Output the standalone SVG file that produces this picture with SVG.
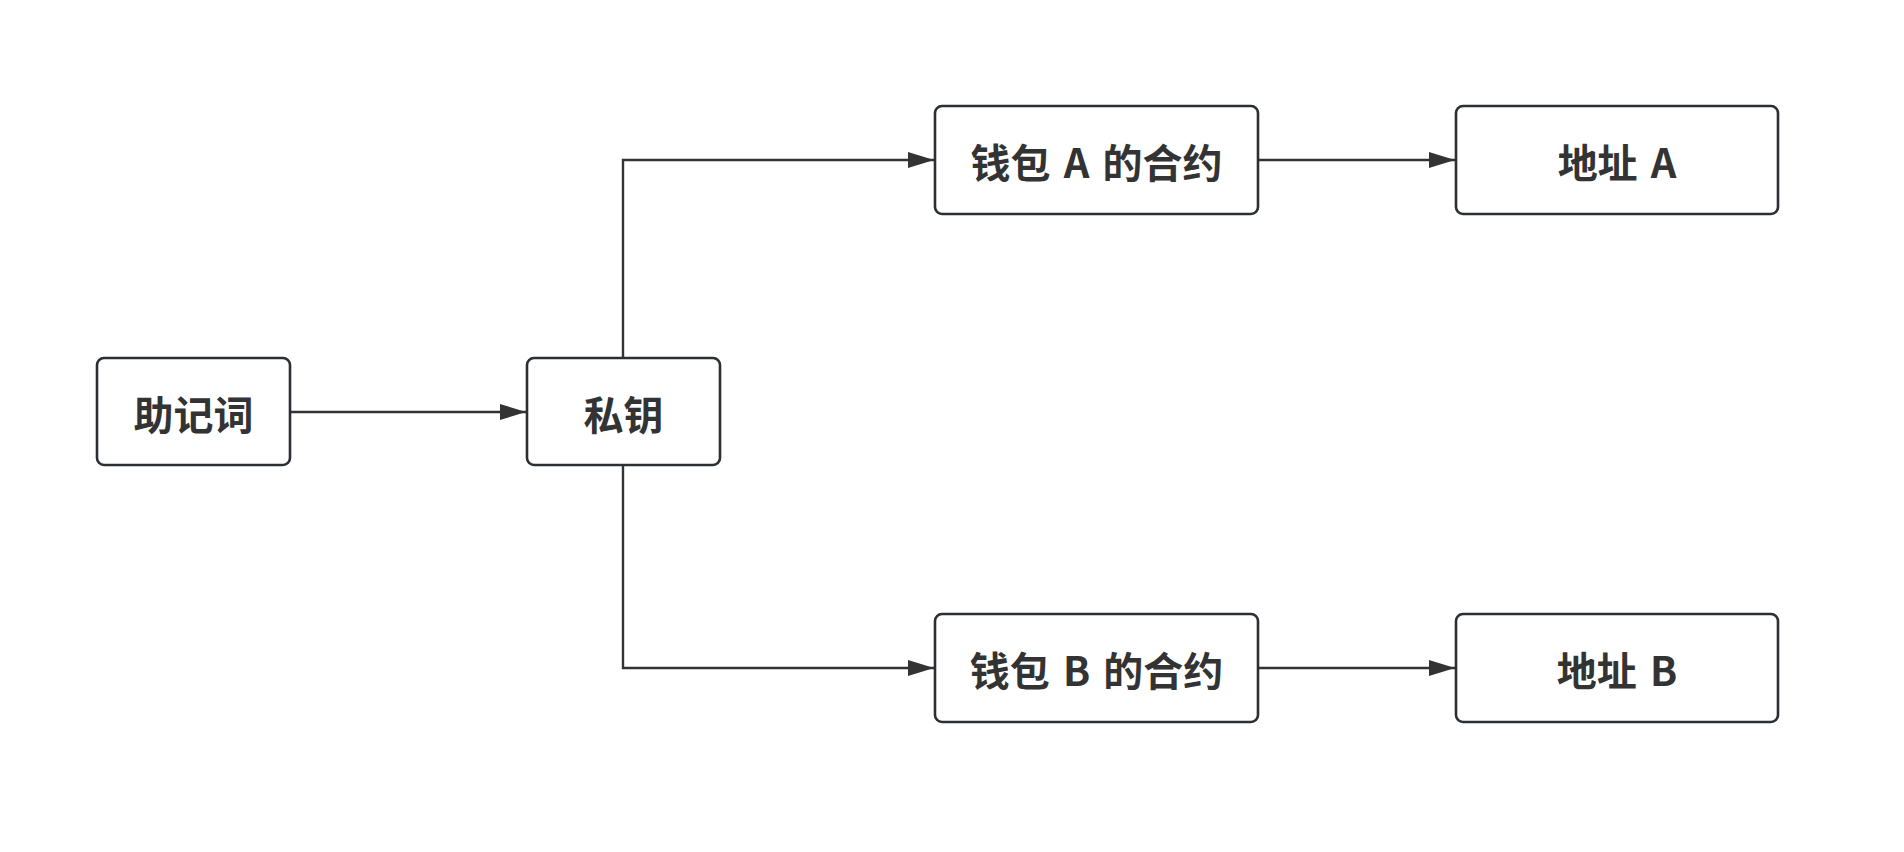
<svg xmlns="http://www.w3.org/2000/svg" width="1904" height="852" viewBox="0 0 1904 852">
<style>
.box{fill:#fff;stroke:#2b2f33;stroke-width:2.6}
.lbl{font-family:"Noto Sans CJK SC","Noto Sans",sans-serif;font-size:40px;font-weight:bold;fill:#333;text-anchor:middle;dominant-baseline:central;word-spacing:4px}
.edge{fill:none;stroke:#333;stroke-width:2.4}
</style>
<defs>
<marker id="arr" markerWidth="26" markerHeight="16" refX="26" refY="8" orient="auto" markerUnits="userSpaceOnUse">
<path d="M0,0 L26,8 L0,16 Z" fill="#333"/>
</marker>
</defs>
<rect width="1904" height="852" fill="#fff"/>
<g id="connectors">
<path class="edge" d="M290,412 H526" marker-end="url(#arr)"/>
<path class="edge" d="M623,358 V160 H934" marker-end="url(#arr)"/>
<path class="edge" d="M623,465 V668 H934" marker-end="url(#arr)"/>
<path class="edge" d="M1258,160 H1455" marker-end="url(#arr)"/>
<path class="edge" d="M1258,668 H1455" marker-end="url(#arr)"/>
</g>
<g id="mnemonic"><rect class="box" x="97" y="358" width="193" height="107" rx="7"/><text class="lbl" x="193.5" y="413">助记词</text></g>
<g id="privkey"><rect class="box" x="527" y="358" width="193" height="107" rx="7"/><text class="lbl" x="623.5" y="413">私钥</text></g>
<g id="walletA"><rect class="box" x="935" y="106" width="323" height="108" rx="7"/><text class="lbl" x="1096.5" y="161">钱包 A 的合约</text></g>
<g id="addrA"><rect class="box" x="1456" y="106" width="322" height="108" rx="7"/><text class="lbl" x="1617" y="161">地址 A</text></g>
<g id="walletB"><rect class="box" x="935" y="614" width="323" height="108" rx="7"/><text class="lbl" x="1096.5" y="669">钱包 B 的合约</text></g>
<g id="addrB"><rect class="box" x="1456" y="614" width="322" height="108" rx="7"/><text class="lbl" x="1617" y="669">地址 B</text></g>
</svg>
